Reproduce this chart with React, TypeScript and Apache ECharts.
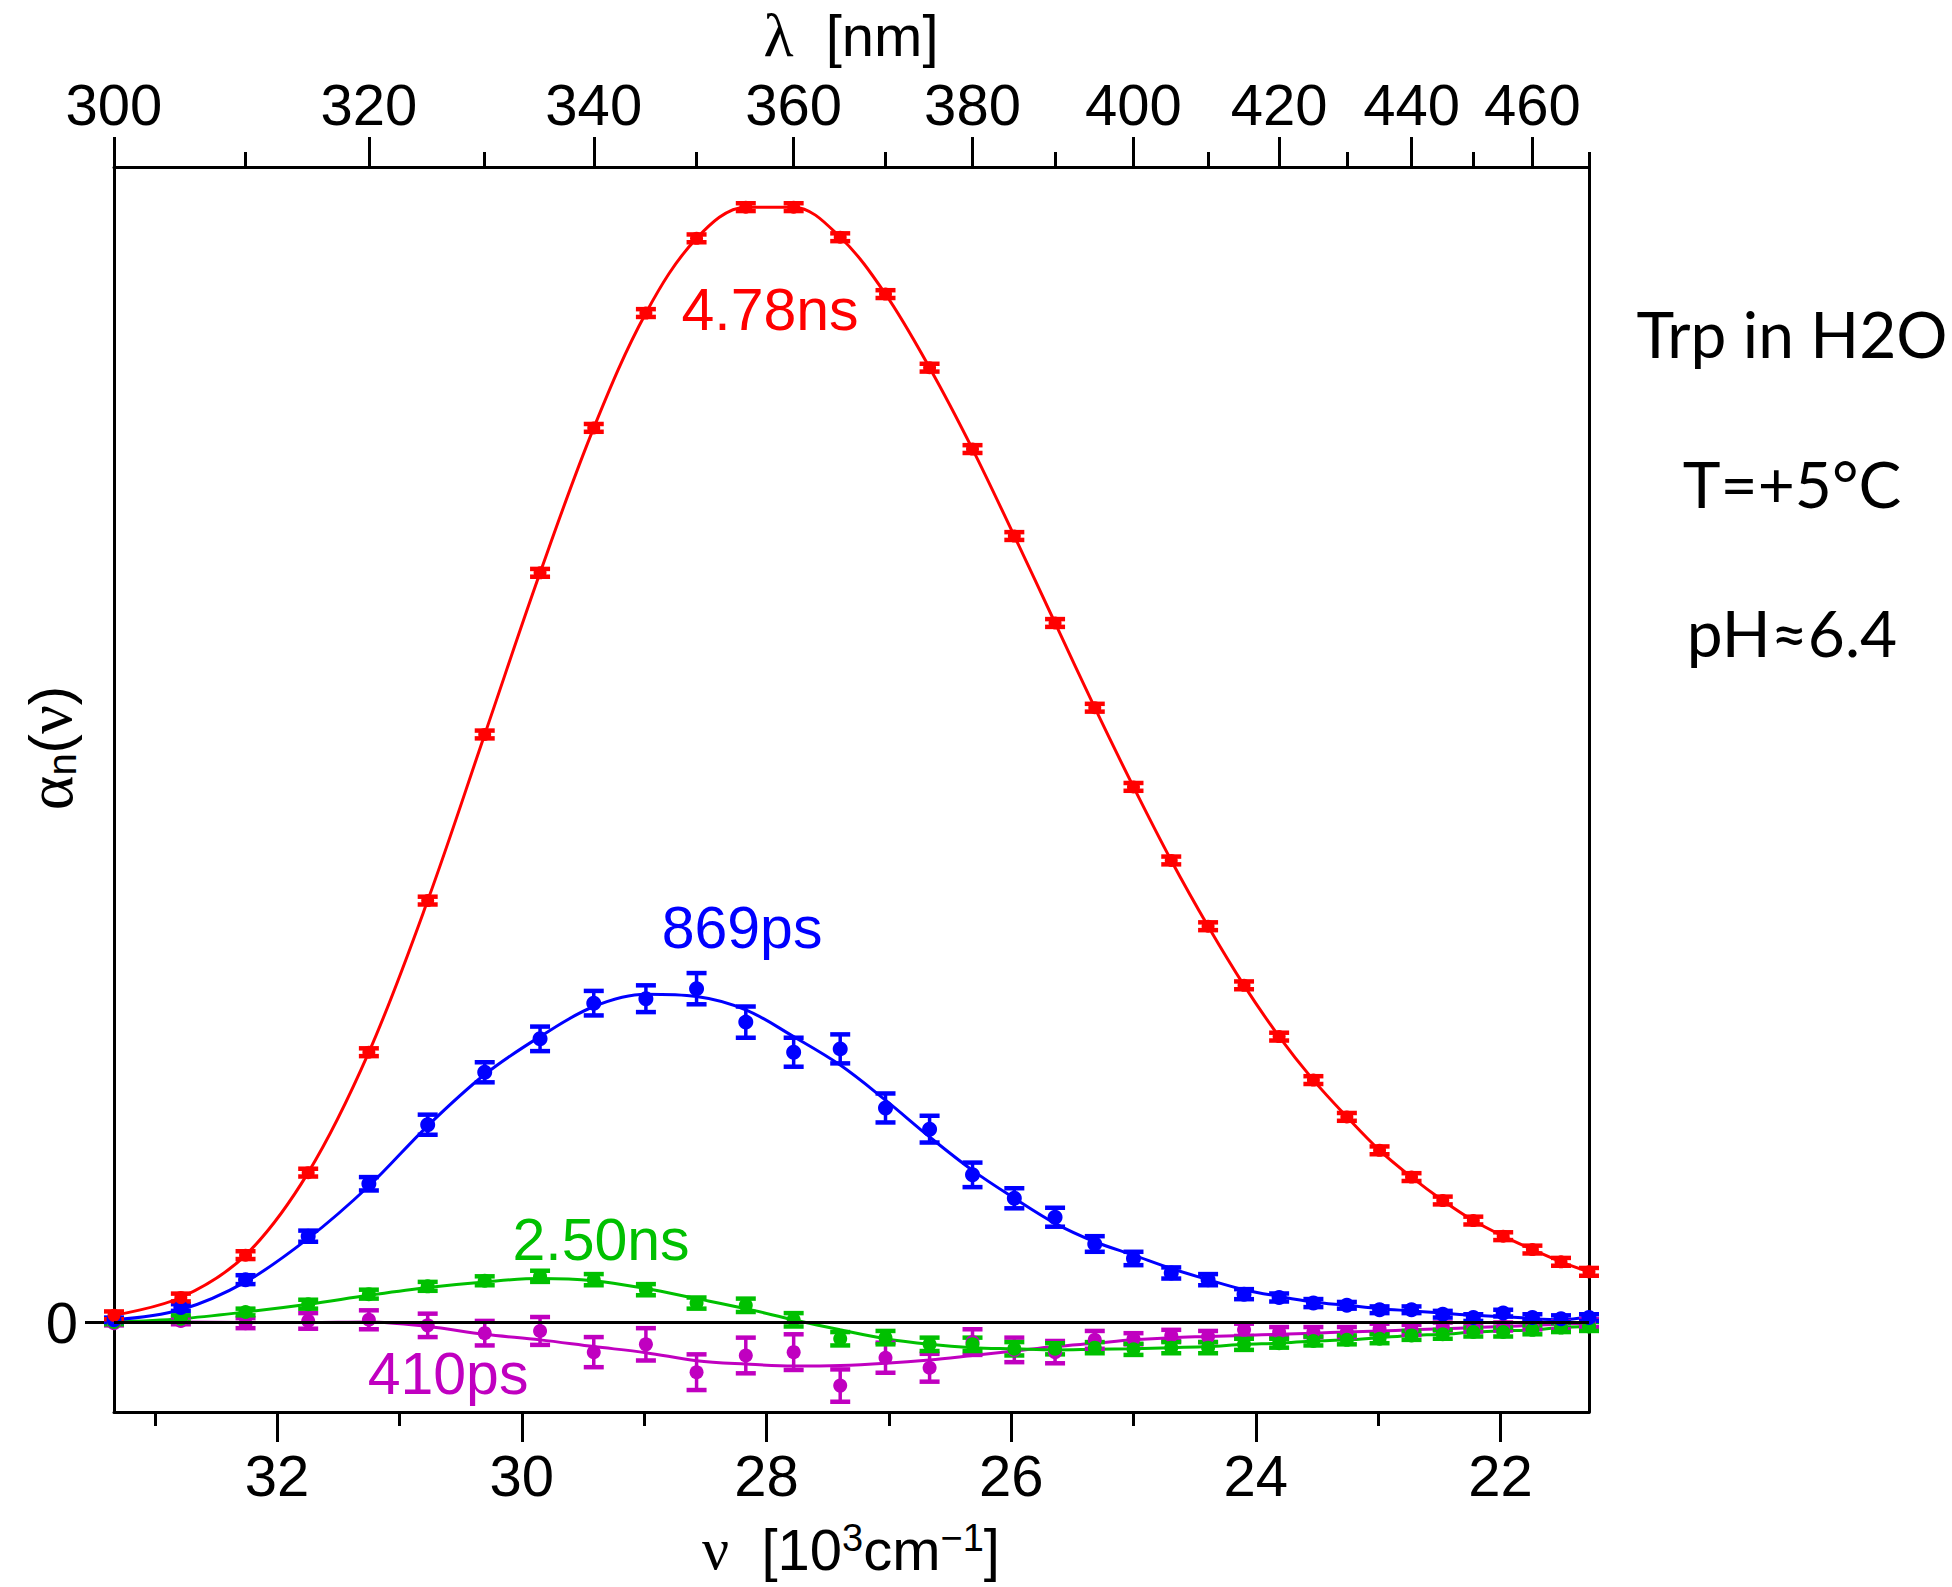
import React, { useEffect, useRef } from "react";
import * as echarts from "echarts";

// Wavelength grid of the measured points [nm]
const LAMBDA_NM = [300, 305, 310, 315, 320, 325, 330, 335, 340, 345, 350, 355, 360, 365, 370, 375, 380, 385, 390, 395, 400, 405, 410, 415, 420, 425, 430, 435, 440, 445, 450, 455, 460, 465, 470];

// 4.78 ns component (red)
const RED_PTS = [0.006, 0.022, 0.060, 0.134, 0.242, 0.378, 0.527, 0.672, 0.802, 0.905, 0.972, 1.000, 1.000, 0.973, 0.922, 0.856, 0.783, 0.705, 0.627, 0.551, 0.480, 0.414, 0.355, 0.302, 0.256, 0.217, 0.184, 0.154, 0.130, 0.109, 0.091, 0.077, 0.065, 0.054, 0.045];
const RED_ERR = [0.0035, 0.0035, 0.0035, 0.0035, 0.0035, 0.0035, 0.0035, 0.0035, 0.0035, 0.0035, 0.0035, 0.0035, 0.0035, 0.0035, 0.0035, 0.0035, 0.0035, 0.0035, 0.0035, 0.0035, 0.0035, 0.0035, 0.0035, 0.0035, 0.0035, 0.0035, 0.0035, 0.0035, 0.0035, 0.0035, 0.0035, 0.0035, 0.0035, 0.0035, 0.0035];

// 869 ps component (blue)
const BLUE_PTS = [0.002, 0.013, 0.038, 0.077, 0.124, 0.177, 0.224, 0.254, 0.286, 0.290, 0.299, 0.269, 0.242, 0.245, 0.192, 0.173, 0.132, 0.111, 0.094, 0.070, 0.057, 0.044, 0.038, 0.025, 0.022, 0.017, 0.015, 0.011, 0.011, 0.007, 0.004, 0.008, 0.004, 0.003, 0.004];
const BLUE_FIT = [0.002, 0.011, 0.036, 0.075, 0.122, 0.176, 0.222, 0.256, 0.283, 0.294, 0.292, 0.280, 0.256, 0.2305, 0.199, 0.166, 0.136, 0.111, 0.0885, 0.072, 0.060, 0.048, 0.038, 0.029, 0.023, 0.018, 0.015, 0.012, 0.010, 0.008, 0.006, 0.005, 0.003, 0.002, 0.005];
const BLUE_ERR = [0.002, 0.003, 0.004, 0.005, 0.006, 0.009, 0.009, 0.011, 0.011, 0.012, 0.014, 0.014, 0.013, 0.013, 0.013, 0.012, 0.011, 0.009, 0.0085, 0.007, 0.006, 0.005, 0.005, 0.0045, 0.0036, 0.0036, 0.003, 0.003, 0.003, 0.003, 0.003, 0.003, 0.003, 0.003, 0.003];

// 2.50 ns component (green)
const GREEN_PTS = [0.000, 0.003, 0.009, 0.016, 0.025, 0.032, 0.037, 0.041, 0.038, 0.029, 0.017, 0.015, 0.002, -0.015, -0.014, -0.020, -0.020, -0.024, -0.024, -0.023, -0.0245, -0.023, -0.023, -0.020, -0.019, -0.017, -0.016, -0.015, -0.012, -0.011, -0.009, -0.009, -0.007, -0.005, -0.004];
const GREEN_FIT = [0.000, 0.003, 0.009, 0.016, 0.024, 0.031, 0.036, 0.039, 0.037, 0.030, 0.021, 0.012, 0.002, -0.007, -0.015, -0.020, -0.023, -0.024, -0.025, -0.0245, -0.024, -0.023, -0.022, -0.020, -0.019, -0.017, -0.016, -0.014, -0.012, -0.011, -0.009, -0.008, -0.007, -0.005, -0.004];
const GREEN_ERR = [0.002, 0.003, 0.003, 0.004, 0.004, 0.004, 0.004, 0.005, 0.005, 0.005, 0.005, 0.006, 0.006, 0.006, 0.006, 0.006, 0.006, 0.006, 0.005, 0.005, 0.005, 0.005, 0.005, 0.005, 0.004, 0.004, 0.004, 0.004, 0.004, 0.004, 0.004, 0.004, 0.004, 0.004, 0.004];

// 410 ps component (magenta)
const MAG_PTS = [-0.001, 0.001, -0.001, 0.001, 0.002, -0.003, -0.010, -0.008, -0.027, -0.020, -0.045, -0.030, -0.027, -0.057, -0.032, -0.041, -0.018, -0.025, -0.027, -0.016, -0.015, -0.012, -0.013, -0.007, -0.009, -0.009, -0.009, -0.006, -0.007, -0.004, -0.005, -0.004, -0.003, -0.003, -0.001];
const MAG_FIT = [0.000, 0.000, -0.0005, -0.0005, 0.000, -0.004, -0.011, -0.016, -0.022, -0.0275, -0.0347, -0.0377, -0.0395, -0.039, -0.037, -0.034, -0.030, -0.026, -0.022, -0.019, -0.016, -0.014, -0.013, -0.012, -0.011, -0.010, -0.009, -0.008, -0.007, -0.006, -0.005, -0.004, -0.003, -0.002, -0.001];
const MAG_ERR = [0.002, 0.003, 0.0045, 0.007, 0.0085, 0.0105, 0.011, 0.0125, 0.0135, 0.0145, 0.016, 0.016, 0.016, 0.0145, 0.0135, 0.0125, 0.0115, 0.011, 0.010, 0.008, 0.005, 0.005, 0.005, 0.0055, 0.0045, 0.0045, 0.0045, 0.0045, 0.0045, 0.0036, 0.0036, 0.0036, 0.0036, 0.0036, 0.0036];

// Axis ticks
const NU_MAJOR = [22, 24, 26, 28, 30, 32];
const NU_MINOR = [23, 25, 27, 29, 31, 33];
const LAMBDA_MAJOR = [300, 320, 340, 360, 380, 400, 420, 440, 460];
const LAMBDA_MINOR = [310, 330, 350, 370, 390, 410, 430, 450, 470];
const Y_TICKS = [0];
const LAMBDA_RANGE = [300, 470];
const Y_RANGE = [-0.0807, 1.036];

const toNu = (l: number) => 10000 / l; // nm -> 10^3 cm^-1
const NU = LAMBDA_NM.map(toNu);
const NU_MIN = toNu(LAMBDA_RANGE[1]);
const NU_MAX = toNu(LAMBDA_RANGE[0]);

const RED = "#ff0000";
const BLUE = "#0000ff";
const GREEN = "#00c000";
const MAG = "#c000c0";
const SANS = "'Liberation Sans', Arial, sans-serif";
const SERIF = "'Liberation Serif', 'Times New Roman', serif";

function pairs(vals: number[]) {
  return NU.map((x, i) => [x, vals[i]]);
}

function fitSeries(vals: number[], color: string, z: number) {
  return {
    type: "line",
    data: pairs(vals),
    smooth: 0.35,
    symbol: "none",
    lineStyle: { color, width: 3 },
    z,
    silent: true,
  };
}

function pointSeries(vals: number[], color: string, size: number, z: number) {
  return {
    type: "scatter",
    data: pairs(vals),
    symbol: "circle",
    symbolSize: size,
    itemStyle: { color, opacity: 1 },
    z,
    silent: true,
  };
}

function errSeries(vals: number[], errs: number[], color: string, z: number) {
  return {
    type: "custom",
    data: NU.map((x, i) => [x, vals[i] - errs[i], vals[i] + errs[i]]),
    encode: { x: 0, y: [1, 2] },
    z,
    silent: true,
    renderItem: (params: any, api: any) => {
      const x = api.value(0);
      const lo = api.coord([x, api.value(1)]);
      const hi = api.coord([x, api.value(2)]);
      const w = 10;
      return {
        type: "group",
        children: [
          { type: "line", shape: { x1: lo[0], y1: lo[1], x2: hi[0], y2: hi[1] }, style: { stroke: color, lineWidth: 3.5 } },
          { type: "line", shape: { x1: lo[0] - w, y1: lo[1], x2: lo[0] + w, y2: lo[1] }, style: { stroke: color, lineWidth: 4.5 } },
          { type: "line", shape: { x1: hi[0] - w, y1: hi[1], x2: hi[0] + w, y2: hi[1] }, style: { stroke: color, lineWidth: 4.5 } },
        ],
      };
    },
  };
}

function xAxisDef(position: string, ticks: number[], len: number, labels: boolean, showLine: boolean, fmt?: (v: number) => string) {
  return {
    type: "value",
    position,
    min: NU_MIN,
    max: NU_MAX,
    inverse: true,
    axisLine: { show: showLine, onZero: false, lineStyle: { color: "#000", width: 3 } },
    axisTick: { show: true, inside: false, length: len, customValues: ticks, lineStyle: { color: "#000", width: 3 } },
    axisLabel: labels
      ? { show: true, customValues: ticks, margin: 34, fontSize: 58, fontFamily: SANS, color: "#000", formatter: fmt }
      : { show: false },
    splitLine: { show: false },
  };
}

export default function App() {
  const ref = useRef<HTMLDivElement>(null);

  useEffect(() => {
    if (!ref.current) return;
    const chart = echarts.init(ref.current, undefined, { renderer: "svg" });
    const option: any = {
      animation: false,
      backgroundColor: "#ffffff",
      grid: { left: 114, top: 167, width: 1475, height: 1245, containLabel: false },
      xAxis: [
        xAxisDef("bottom", NU_MAJOR, 30, true, true, (v: number) => String(Math.round(v))),
        xAxisDef("bottom", NU_MINOR, 14, false, false),
        xAxisDef("top", LAMBDA_MAJOR.map(toNu), 30, true, true, (v: number) => String(Math.round(10000 / v))),
        xAxisDef("top", LAMBDA_MINOR.map(toNu), 15, false, false),
      ],
      yAxis: [
        {
          type: "value",
          position: "left",
          min: Y_RANGE[0],
          max: Y_RANGE[1],
          axisLine: { show: true, onZero: false, lineStyle: { color: "#000", width: 3 } },
          axisTick: { show: true, length: 29, customValues: Y_TICKS, lineStyle: { color: "#000", width: 3 } },
          axisLabel: { show: true, customValues: Y_TICKS, margin: 36, fontSize: 58, fontFamily: SANS, color: "#000", formatter: (v: number) => String(Math.round(v)) },
          splitLine: { show: false },
        },
        {
          type: "value",
          position: "right",
          min: Y_RANGE[0],
          max: Y_RANGE[1],
          axisLine: { show: true, onZero: false, lineStyle: { color: "#000", width: 3 } },
          axisTick: { show: false },
          axisLabel: { show: false },
          splitLine: { show: false },
        },
      ],
      series: [
        {
          type: "line",
          data: [],
          z: 1,
          markLine: {
            silent: true,
            symbol: "none",
            label: { show: false },
            lineStyle: { color: "#000", width: 3, type: "solid" },
            data: [{ yAxis: 0 }],
          },
        },
        fitSeries(MAG_FIT, MAG, 2),
        fitSeries(GREEN_FIT, GREEN, 2),
        fitSeries(BLUE_FIT, BLUE, 2),
        fitSeries(RED_PTS, RED, 2),
        errSeries(MAG_PTS, MAG_ERR, MAG, 3),
        pointSeries(MAG_PTS, MAG, 14, 4),
        errSeries(GREEN_PTS, GREEN_ERR, GREEN, 3),
        pointSeries(GREEN_PTS, GREEN, 14, 4),
        errSeries(BLUE_PTS, BLUE_ERR, BLUE, 3),
        pointSeries(BLUE_PTS, BLUE, 15, 4),
        errSeries(RED_PTS, RED_ERR, RED, 3),
        pointSeries(RED_PTS, RED, 13, 4),
      ],
      graphic: [
        {
          type: "text", x: 851, y: 35, z: 10,
          style: {
            text: "{g|λ}{t|  [nm]}", align: "center", verticalAlign: "middle", fill: "#000",
            rich: { g: { fontFamily: SERIF, fontSize: 62, fill: "#000" }, t: { fontFamily: SANS, fontSize: 58, fill: "#000" } },
          },
        },
        {
          type: "text", x: 851, y: 1549, z: 10,
          style: {
            text: "{g|ν}{t|  [10}{s|3}{t|cm}{s|−1}{t|]}", align: "center", verticalAlign: "middle", fill: "#000",
            rich: {
              g: { fontFamily: SERIF, fontSize: 60, fill: "#000" },
              t: { fontFamily: SANS, fontSize: 58, fill: "#000" },
              s: { fontFamily: SANS, fontSize: 38, fill: "#000", verticalAlign: "top" },
            },
          },
        },
        {
          type: "text", x: 49, y: 748, rotation: Math.PI / 2, z: 10,
          style: {
            text: "{a|α}{n|n}{t|(}{g|ν}{t|)}", align: "center", verticalAlign: "middle", fill: "#000",
            rich: {
              a: { fontFamily: SERIF, fontSize: 66, fill: "#000" },
              n: { fontFamily: SANS, fontSize: 40, fill: "#000", verticalAlign: "bottom" },
              t: { fontFamily: SANS, fontSize: 58, fill: "#000" },
              g: { fontFamily: SERIF, fontSize: 64, fill: "#000" },
            },
          },
        },
        { type: "text", x: 770, y: 310, z: 10, style: { text: "4.78ns", fontFamily: SANS, fontSize: 59, fill: RED, align: "center", verticalAlign: "middle" } },
        { type: "text", x: 742, y: 928, z: 10, style: { text: "869ps", fontFamily: SANS, fontSize: 59, fill: BLUE, align: "center", verticalAlign: "middle" } },
        { type: "text", x: 601, y: 1240, z: 10, style: { text: "2.50ns", fontFamily: SANS, fontSize: 59, fill: GREEN, align: "center", verticalAlign: "middle" } },
        { type: "text", x: 448, y: 1374, z: 10, style: { text: "410ps", fontFamily: SANS, fontSize: 59, fill: MAG, align: "center", verticalAlign: "middle" } },
        { type: "text", x: 1792, y: 333, z: 10, style: { text: "Trp in H2O", fontFamily: "Lato", fontSize: 64, fill: "#000", align: "center", verticalAlign: "middle" } },
        { type: "text", x: 1792, y: 483, z: 10, style: { text: "T=+5°C", fontFamily: "Lato", fontSize: 64, fill: "#000", align: "center", verticalAlign: "middle" } },
        { type: "text", x: 1792, y: 632, z: 10, style: { text: "pH≈6.4", fontFamily: "Lato", fontSize: 64, fill: "#000", align: "center", verticalAlign: "middle" } },
      ],
    };
    chart.setOption(option);
    return () => chart.dispose();
  }, []);

  return (
    <div
      ref={ref}
      style={{ position: "absolute", left: 0, top: 0, width: 1952, height: 1587, background: "#fff" }}
    />
  );
}
